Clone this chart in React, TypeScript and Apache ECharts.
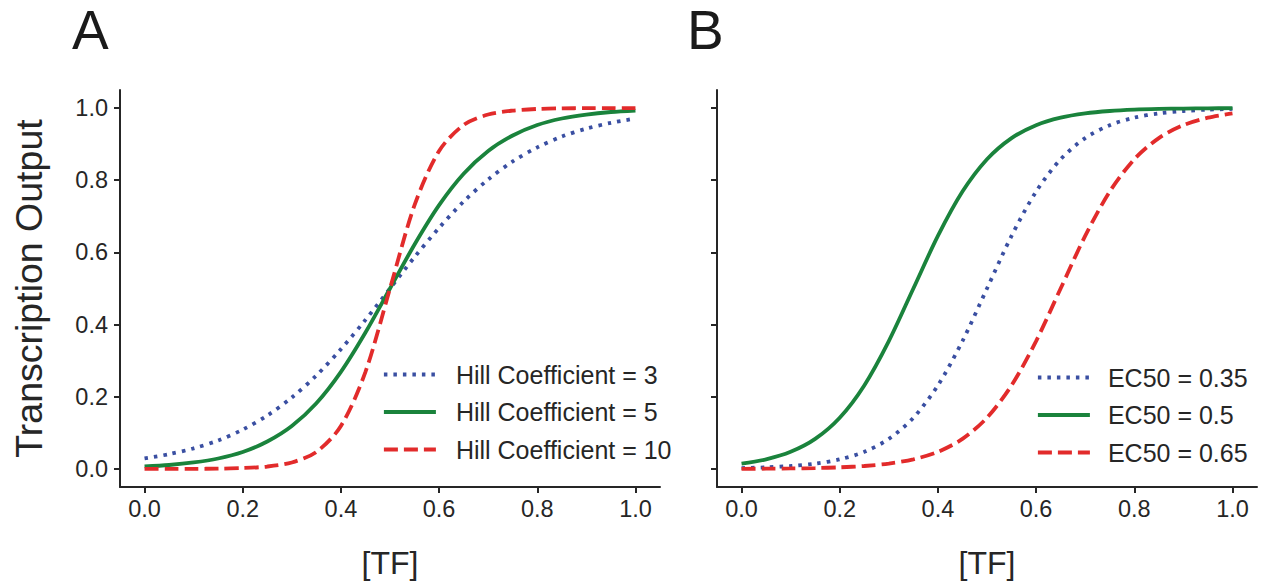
import React, { useEffect, useRef } from "react";
import * as echarts from "echarts";

const X_VALUES = [0, 0.05, 0.1, 0.15, 0.2, 0.25, 0.3, 0.35, 0.4, 0.45, 0.5, 0.55, 0.6, 0.65, 0.7, 0.75, 0.8, 0.85, 0.9, 0.95, 1.0];

const A_NAMES = ["Hill Coefficient = 3", "Hill Coefficient = 5", "Hill Coefficient = 10"];
const A_HILL3 = [0.029, 0.041, 0.057, 0.079, 0.109, 0.148, 0.198, 0.259, 0.332, 0.413, 0.5, 0.587, 0.668, 0.741, 0.802, 0.852, 0.891, 0.921, 0.943, 0.959, 0.971];
const A_HILL5 = [0.007, 0.011, 0.018, 0.029, 0.047, 0.076, 0.119, 0.182, 0.269, 0.378, 0.5, 0.622, 0.731, 0.818, 0.881, 0.924, 0.953, 0.971, 0.982, 0.989, 0.993];
const A_HILL10 = [0.0, 0.0001, 0.0003, 0.0009, 0.0025, 0.0067, 0.018, 0.047, 0.119, 0.269, 0.5, 0.731, 0.881, 0.953, 0.982, 0.993, 0.9975, 0.9991, 0.9997, 0.9999, 1.0];

const B_NAMES = ["EC50 = 0.35", "EC50 = 0.5", "EC50 = 0.65"];
const B_DOTTED = [0.0025, 0.0045, 0.0082, 0.0148, 0.0266, 0.0474, 0.0832, 0.1419, 0.2315, 0.3543, 0.5, 0.6457, 0.7685, 0.8581, 0.9168, 0.9526, 0.9734, 0.9852, 0.9918, 0.9955, 0.9975];
const B_SOLID = [0.0148, 0.0266, 0.0474, 0.0832, 0.1419, 0.2315, 0.3543, 0.5, 0.6457, 0.7685, 0.8581, 0.9168, 0.9526, 0.9734, 0.9852, 0.9918, 0.9955, 0.9975, 0.9986, 0.9993, 0.9996];
const B_DASHED = [0.0004, 0.0007, 0.0014, 0.0025, 0.0045, 0.0082, 0.0148, 0.0266, 0.0474, 0.0832, 0.1419, 0.2315, 0.3543, 0.5, 0.6457, 0.7685, 0.8581, 0.9168, 0.9526, 0.9734, 0.9852];

const TICK_VALUES = [0, 0.2, 0.4, 0.6, 0.8, 1.0];
const PANEL_LABELS = ["A", "B"];
const X_TITLE = "[TF]";
const Y_TITLE = "Transcription Output";

const FONT = "'Liberation Sans', Arial, sans-serif";
const INK = "#262626";
const BLUE = "#3a4fa2";
const GREEN = "#1a833c";
const RED = "#e22b2b";

const STYLES = [
  { color: BLUE, type: [3.5, 6] },
  { color: GREEN, type: "solid" },
  { color: RED, type: [14, 6] },
];

function makeSeries(name: string, values: number[], idx: number, style: any) {
  return {
    type: "line",
    name,
    xAxisIndex: idx,
    yAxisIndex: idx,
    data: X_VALUES.map((x, i) => [x, values[i]]),
    symbol: "none",
    smooth: 0.3,
    lineStyle: { color: style.color, width: 3.8, type: style.type, cap: "butt" },
    itemStyle: { color: style.color },
    emphasis: { disabled: true },
  };
}

function makeLegend(names: string[], left: number, top: number, textPad: number) {
  return {
    data: names,
    orient: "vertical",
    left,
    top,
    padding: 0,
    itemWidth: 52,
    itemHeight: 14,
    itemGap: 12.5,
    selectedMode: false,
    itemStyle: { opacity: 0, borderWidth: 0 },
    lineStyle: { width: 3.8 },
    textStyle: { fontSize: 25, color: INK, fontFamily: FONT, padding: [0, 0, 0, textPad] },
  };
}

export default function App() {
  const ref = useRef<HTMLDivElement>(null);
  useEffect(() => {
    if (!ref.current) return;
    const chart = echarts.init(ref.current, null, { renderer: "svg" });
    const axisCommon = (i: number, isX: boolean) => ({
      gridIndex: i,
      type: "value",
      min: -0.05,
      max: 1.05,
      axisLine: { show: true, onZero: false, lineStyle: { color: INK, width: 2 } },
      axisTick: { show: true, length: 6, lineStyle: { color: INK, width: 2 }, customValues: TICK_VALUES },
      axisLabel: {
        show: isX || i === 0,
        customValues: TICK_VALUES,
        formatter: (v: number) => v.toFixed(1),
        fontSize: 23.5,
        color: INK,
        fontFamily: FONT,
        margin: isX ? 10 : 12,
      },
      splitLine: { show: false },
    });
    const option: any = {
      animation: false,
      textStyle: { fontFamily: FONT },
      grid: [
        { left: 120, top: 90, width: 540, height: 397 },
        { left: 717, top: 90, width: 540, height: 397 },
      ],
      xAxis: [0, 1].map((i) => ({
        ...axisCommon(i, true),
        name: X_TITLE,
        nameLocation: "middle",
        nameGap: 60,
        nameTextStyle: { fontSize: 32, color: INK, fontFamily: FONT },
      })),
      yAxis: [0, 1].map((i) => ({
        ...axisCommon(i, false),
        ...(i === 0
          ? {
              name: Y_TITLE,
              nameLocation: "middle",
              nameRotate: 90,
              nameGap: 72,
              nameTextStyle: { fontSize: 37.5, color: INK, fontFamily: FONT },
            }
          : {}),
      })),
      legend: [makeLegend(A_NAMES, 382, 362, 15), makeLegend(B_NAMES, 1036, 365, 13)],
      graphic: PANEL_LABELS.map((t, i) => ({
        type: "text",
        left: i === 0 ? 72 : 687,
        top: 2,
        style: { text: t, fontSize: 55, fill: "#1a1a1a", fontFamily: FONT },
      })),
      series: [
        makeSeries(A_NAMES[0], A_HILL3, 0, STYLES[0]),
        makeSeries(A_NAMES[1], A_HILL5, 0, STYLES[1]),
        makeSeries(A_NAMES[2], A_HILL10, 0, STYLES[2]),
        makeSeries(B_NAMES[0], B_DOTTED, 1, STYLES[0]),
        makeSeries(B_NAMES[1], B_SOLID, 1, STYLES[1]),
        makeSeries(B_NAMES[2], B_DASHED, 1, STYLES[2]),
      ],
    };
    chart.setOption(option);
    return () => chart.dispose();
  }, []);
  return (
    <div
      ref={ref}
      style={{ position: "fixed", left: 0, top: 0, width: 1262, height: 585, background: "#fff" }}
    />
  );
}
